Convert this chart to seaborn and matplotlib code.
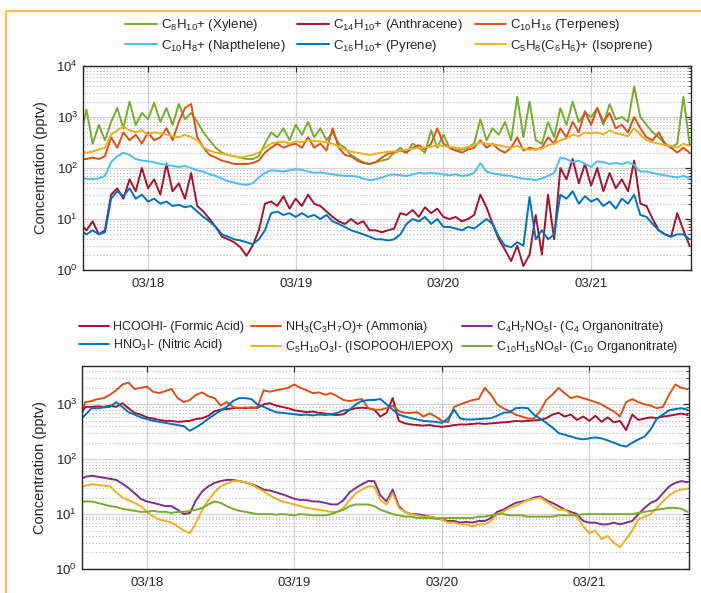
import numpy as np
import pandas as pd
import matplotlib
matplotlib.use("Agg")
import matplotlib.pyplot as plt
import matplotlib.dates as mdates
from matplotlib.lines import Line2D
from matplotlib.ticker import LogLocator, NullFormatter
import seaborn as sns

# hourly readings, 03/17 13:00 -> 03/21 16:00
times = pd.date_range("2019-03-17 13:00", periods=100, freq="h")

# ---- top panel (VOC cations) ----
xylene = [400, 1400, 300, 700, 350, 800, 1500, 600, 2000, 700, 1200, 900, 1900, 800, 1500, 700, 1800, 900,
          1200, 800, 500, 350, 250, 200, 180, 170, 160, 150, 150, 170, 300, 500, 400, 600, 350, 700, 450, 800,
          400, 600, 350, 500, 300, 250,
          180, 150, 130, 120, 130, 140, 150, 200, 250, 200, 300, 250, 200, 550, 250, 450, 250, 220, 230, 250,
          300, 900, 350, 600, 450, 800, 350, 2500, 400, 2000, 350, 300, 800, 400, 1500, 700, 2000, 800, 1200,
          1000, 1500, 700, 1800, 900, 1000, 800, 4000, 1000, 700, 500, 400, 300, 250, 300, 2500, 300]
anthracene = [8, 6, 9, 5, 6, 30, 40, 25, 60, 35, 100, 40, 60, 30, 120, 35, 50, 25, 80, 18, 14, 10, 7, 4.5,
              4, 3.5, 2.8, 1.9, 3, 6, 20, 22, 18, 28, 16, 25, 18, 30, 20, 18, 14, 11, 9, 8,
              10, 8, 9, 6, 6, 5.5, 6, 6.5, 13, 12, 15, 11, 17, 13, 16, 11, 10, 11, 9, 10, 12, 30, 17, 8, 4,
              2.5, 1.5, 3, 1.2, 2, 12, 2, 30, 4, 100, 60, 150, 50, 120, 45, 100, 35, 80, 40, 60, 35, 140, 20,
              18, 10, 6, 5, 4.5, 13, 6, 3]
terpenes = [150, 150, 160, 150, 170, 400, 250, 500, 350, 450, 300, 500, 350, 400, 600, 350, 800, 1500, 1800,
            400, 250, 180, 160, 140, 130, 120, 120, 120, 125, 140, 200, 250, 300, 250, 280, 300, 250, 400, 250,
            300, 220, 600, 250, 180,
            170, 140, 125, 120, 130, 160, 190, 200, 220, 200, 250, 280, 230, 300, 600, 300, 250, 220, 200, 230,
            250, 350, 250, 300, 230, 200, 250, 400, 220, 250, 230, 250, 400, 300, 600, 400, 800, 500, 1300,
            700, 1500, 800, 1200, 600, 700, 500, 1000, 600, 400, 350, 500, 300, 250, 200, 250, 200]
napthelene = [65, 62, 60, 63, 70, 130, 170, 200, 180, 150, 140, 135, 130, 120, 115, 110, 105, 110, 100, 90,
              85, 75, 70, 62, 55, 52, 48, 47, 50, 65, 80, 90, 88, 85, 90, 95, 92, 85, 80, 82, 78, 75, 72, 70,
              70, 68, 62, 58, 60, 65, 72, 75, 72, 70, 75, 80, 78, 80, 78, 75, 72, 75, 70, 72, 80, 125, 85, 78,
              75, 72, 70, 65, 62, 60, 58, 62, 70, 80, 160, 150, 130, 140, 120, 105, 135, 130, 120, 125, 120,
              130, 115, 85, 85, 80, 75, 72, 68, 65, 70, 63]
pyrene = [6, 5, 6, 5, 5.5, 25, 35, 28, 40, 25, 30, 22, 25, 20, 22, 18, 19, 17, 18, 14, 11, 9, 7, 5, 4.5, 4,
          3.8, 3.5, 3.2, 4, 6, 13, 14, 12, 13, 11, 13, 11, 12, 10, 12, 9, 8, 7,
          6, 5.5, 5, 4.5, 4, 4, 3.8, 4, 5, 8, 10, 9, 11, 8, 10, 7, 7, 6.5, 6, 7, 6.5, 8, 10, 8, 4.5, 3, 2.8,
          3.5, 3, 27, 4, 6, 4, 5, 30, 25, 35, 20, 28, 22, 25, 18, 22, 16, 25, 20, 30, 12, 11, 8, 6, 5, 4.5,
          5, 5, 4]
isoprene = [220, 200, 210, 230, 250, 450, 550, 650, 550, 500, 550, 450, 500, 480, 450, 420, 400, 450, 400,
            350, 250, 220, 200, 190, 180, 170, 160, 170, 180, 200, 250, 300, 320, 330, 300, 330, 320, 350, 340,
            330, 320, 300, 260, 230,
            210, 200, 190, 180, 190, 200, 210, 210, 220, 230, 240, 250, 250, 260, 280, 270, 260, 250, 240, 260,
            280, 320, 300, 290, 280, 260, 250, 270, 240, 230, 230, 240, 280, 300, 350, 380, 450, 420, 500, 480,
            500, 450, 550, 480, 450, 420, 600, 450, 350, 320, 300, 280, 270, 250, 300, 270]

# ---- bottom panel (iodide / ammonium) ----
formic = [600, 900, 900, 920, 900, 950, 900, 1050, 850, 700, 650, 580, 550, 520, 500, 500, 480, 490, 500, 540,
          560, 620, 750, 800, 820, 850, 870, 850, 880, 860, 1000, 1050, 950, 900, 850, 780, 750, 720, 740, 700,
          680, 650, 640, 660,
          800, 850, 870, 850, 800, 600, 700, 1300, 500, 450, 430, 420, 410, 420, 400, 390, 400, 420, 430, 430,
          440, 450, 440, 450, 460, 470, 480, 500, 490, 500, 510, 520, 560, 650, 700, 600, 650, 520, 600, 500,
          620, 480, 580, 470, 500, 340, 650, 520, 550, 580, 560, 600, 620, 650, 680, 640]
ammonia = [600, 1100, 1150, 1250, 1300, 1500, 1800, 2300, 2500, 1900, 2000, 2100, 1700, 1600, 1750, 1900, 1300,
           1100, 1200, 1500, 1650, 1400, 1300, 950, 1100, 900, 850, 880, 850, 900, 1800, 1700, 1800, 1900,
           2000, 2300, 2000, 1800, 1600, 1650, 1500, 1600, 1400, 1200,
           1150, 1200, 1250, 850, 800, 800, 850, 950, 750, 700, 700, 720, 600, 680, 600, 500, 470, 900, 1000,
           1100, 1200, 1250, 2000, 1500, 1000, 850, 750, 650, 600, 550, 550, 750, 1200, 1500, 2000, 1600, 1300,
           1400, 1300, 1200, 1100, 1000, 850, 750, 600, 1100, 1250, 1100, 1000, 950, 850, 900, 1500, 2300,
           2000, 1900]
c4_nitrate = [42, 48, 50, 48, 46, 44, 42, 36, 30, 24, 19, 17, 16, 15, 14, 14, 12, 10, 10.5, 18, 26, 32, 37, 40,
              42, 42, 40, 38, 35, 32, 28, 27, 25, 23, 21, 19, 18, 18, 17, 17, 16, 15, 15, 18,
              25, 30, 35, 40, 40, 22, 17, 28, 14, 11, 10, 10, 9.5, 9, 8.5, 8, 7.5, 7.5, 7, 7.2, 7, 7.5, 7.5,
              8.5, 11, 12, 14, 16, 17, 18, 20, 21, 18, 16, 14, 12, 11, 10, 7.5, 7, 7, 6.5, 6.5, 7, 6.5, 7, 7.5,
              10, 13, 16, 18, 24, 32, 37, 40, 38]
nitric = [500, 650, 850, 850, 880, 900, 1100, 900, 720, 650, 580, 540, 500, 480, 460, 440, 420, 400, 330, 380,
          450, 550, 650, 780, 900, 1150, 1300, 1300, 1250, 1000, 900, 800, 720, 700, 680, 660, 640, 650, 630,
          650, 640, 660, 700, 780,
          800, 1000, 1150, 1200, 1200, 1250, 1000, 800, 650, 600, 560, 530, 500, 490, 480, 460, 550, 800, 550,
          530, 530, 540, 550, 560, 620, 700, 720, 850, 870, 850, 650, 550, 460, 380, 300, 280, 260, 240, 230,
          240, 250, 240, 220, 200, 180, 170, 200, 230, 260, 350, 550, 650, 780, 820, 850, 800]
isopooh = [30, 33, 35, 34, 33, 32, 25, 20, 18, 16, 14, 11, 9, 8, 7.5, 7, 6, 5, 4.5, 7, 12, 18, 25, 32, 36, 40,
           40, 38, 35, 30, 26, 22, 19, 17, 16, 15, 14, 13, 12.5, 12, 11.5, 11, 11, 13,
           18, 24, 28, 32, 32, 18, 15, 24, 13, 11, 10, 9.5, 9, 9, 8.5, 8, 7, 7, 6.5, 6.5, 6, 6.5, 6.5, 7.5,
           10, 11, 13, 14, 16, 18, 19, 20, 17, 14, 12, 12, 10, 9, 6, 4.5, 5, 3.5, 4, 3, 2.5, 3.5, 5, 8, 9, 10,
           13, 17, 22, 26, 28, 29]
c10_nitrate = [17, 17, 17, 16, 15, 14, 13.5, 12.5, 12, 11.5, 11, 11, 11.5, 11, 11, 10.5, 11, 11, 11.5, 12, 13,
               15, 17, 16, 14, 12.5, 11.5, 11, 10.5, 10, 10, 10, 9.8, 10, 9.8, 9.5, 10, 9.8, 9.5, 9.5, 9.5,
               10, 11, 12,
               14, 15, 15, 15, 14, 12, 11, 10, 9.5, 9, 9, 8.5, 8.5, 8.5, 8.2, 8.5, 8.5, 8.5, 8.5, 8.5, 8.5, 9,
               9, 9.5, 10, 10, 9.5, 9.5, 9.5, 9, 9, 9, 9, 9, 9.5, 9.5, 9.5, 9.5, 10, 10, 10, 10, 10, 10, 10, 10,
               10, 10.5, 11, 11.5, 12, 12.5, 13, 13, 12.5, 11]

top_labels = ["C$_8$H$_{10}$+ (Xylene)", "C$_{14}$H$_{10}$+ (Anthracene)", "C$_{10}$H$_{16}$ (Terpenes)",
              "C$_{10}$H$_8$+ (Napthelene)", "C$_{16}$H$_{10}$+ (Pyrene)", "C$_5$H$_8$(C$_6$H$_6$)+ (Isoprene)"]
top_series = [xylene, anthracene, terpenes, napthelene, pyrene, isoprene]
top_colors = ["#77AC30", "#A2142F", "#D95319", "#4DBEEE", "#0072BD", "#EDB120"]

bot_labels = ["HCOOHI- (Formic Acid)", "NH$_3$(C$_3$H$_7$O)+ (Ammonia)",
              "C$_4$H$_7$NO$_5$I- (C$_4$ Organonitrate)", "HNO$_3$I- (Nitric Acid)",
              "C$_5$H$_{10}$O$_3$I- (ISOPOOH/IEPOX)", "C$_{10}$H$_{15}$NO$_6$I- (C$_{10}$ Organonitrate)"]
bot_series = [formic, ammonia, c4_nitrate, nitric, isopooh, c10_nitrate]
bot_colors = ["#A2142F", "#D95319", "#7E2F8E", "#0072BD", "#EDB120", "#77AC30"]

sns.set_style("white")
plt.rcParams['font.family'] = ['Liberation Sans', 'DejaVu Sans']
plt.rcParams['mathtext.default'] = 'regular'


def long_df(labels, series):
    parts = []
    for lab, vals in zip(labels, series):
        parts.append(pd.DataFrame({"time": times, "value": vals, "species": lab}))
    return pd.concat(parts, ignore_index=True)


fig = plt.figure(figsize=(7.01, 5.93), dpi=100)
ax1 = fig.add_axes([83 / 701, 1 - 270 / 593, 608 / 701, 204 / 593])
ax2 = fig.add_axes([82 / 701, 1 - 569 / 593, 607 / 701, 203 / 593])

panels = [(ax1, top_labels, top_series, top_colors, (1, 1e4), (0.555, 1 - 12 / 593), 9.5, 0.9),
          (ax2, bot_labels, bot_series, bot_colors, (1, 5000), (0.54, 1 - 314 / 593), 9.0, 0.6)]

for ax, labels, series, colors, ylim, anchor, lsize, cspace in panels:
    df = long_df(labels, series)
    sns.lineplot(data=df, x="time", y="value", hue="species", hue_order=labels,
                 palette=dict(zip(labels, colors)), ax=ax, legend=False, lw=1.4)
    ax.set_yscale("log")
    ax.set_ylim(*ylim)
    ax.set_xlim(pd.Timestamp("2019-03-17 13:26"), pd.Timestamp("2019-03-21 16:14"))
    ax.xaxis.set_major_locator(mdates.DayLocator())
    ax.xaxis.set_major_formatter(mdates.DateFormatter("%m/%d"))
    ax.yaxis.set_major_locator(LogLocator(base=10, numticks=10))
    ax.yaxis.set_minor_locator(LogLocator(base=10, subs=np.arange(2, 10), numticks=50))
    ax.yaxis.set_minor_formatter(NullFormatter())
    ax.grid(True, which="major", color="#d4d4d4", lw=0.9)
    ax.grid(True, which="minor", axis="y", color="#b8b8b8", lw=0.8, ls=(0, (1, 2)))
    ax.set_axisbelow(True)
    ax.tick_params(which="both", direction="in", top=True, right=True, colors="#262626",
                   labelsize=9.5, labelcolor="#262626")
    ax.tick_params(which="major", length=4, width=0.8)
    ax.tick_params(which="minor", length=2, width=0.6)
    ax.tick_params(axis="x", pad=6)
    for sp in ax.spines.values():
        sp.set_color("#262626")
        sp.set_linewidth(1.0)
    ax.set_xlabel("")
    ax.set_ylabel("Concentration (pptv)", fontsize=10.5, color="#262626", labelpad=6)

    # legend filled column by column, so reorder to match the row layout
    order = [0, 3, 1, 4, 2, 5]
    handles = [Line2D([], [], color=colors[k], lw=1.4) for k in order]
    texts = [labels[k] for k in order]
    fig.legend(handles, texts, loc="upper center", bbox_to_anchor=anchor, ncol=3, frameon=False,
               fontsize=lsize, handlelength=2.4, handletextpad=0.3, columnspacing=cspace,
               labelspacing=0.35, borderaxespad=0)

# orange frame
frame_c = "#FDBF4F"
fig.add_artist(Line2D([6 / 701, 1.0], [1 - 11 / 593, 1 - 11 / 593], color=frame_c, lw=1.6,
                      transform=fig.transFigure))
fig.add_artist(Line2D([6 / 701, 6 / 701], [0.0, 1 - 11 / 593], color=frame_c, lw=1.6,
                      transform=fig.transFigure))

fig.savefig("out.png", dpi=100)
